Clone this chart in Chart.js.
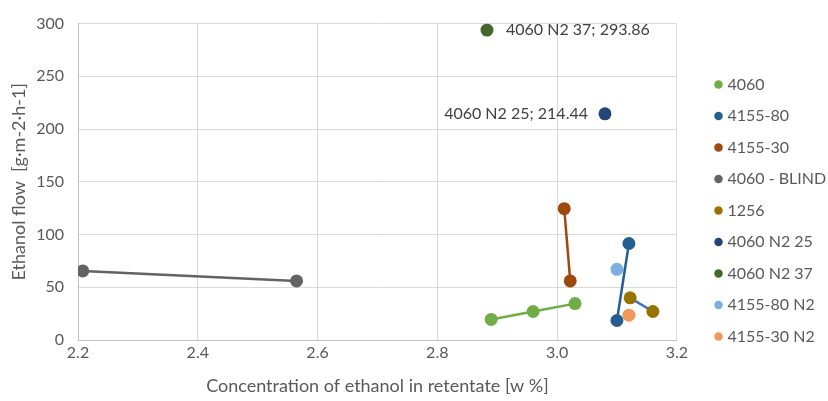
<!DOCTYPE html>
<html>
<head>
<meta charset="utf-8">
<script src="https://cdn.jsdelivr.net/npm/chart.js@4/dist/chart.umd.min.js"></script>
<style>
  html, body { margin: 0; padding: 0; background: #fff; }
  #wrap { width: 828px; height: 401px; }
</style>
</head>
<body>
<div id="wrap"><canvas id="chart"></canvas></div>
<script>
// series names and colours (legend order)
const seriesNames = ['4060', '4155-80', '4155-30', '4060 - BLIND', '1256', '4060 N2 25', '4060 N2 37', '4155-80 N2', '4155-30 N2'];
const pointColors = ['#70AD47', '#255E91', '#9E480E', '#636363', '#997300', '#264478', '#43682B', '#7CAFDD', '#F1975A'];
const lineColors  = ['#70AD47', '#255E91', '#9E480E', '#636363', '#4472C4', '#264478', '#43682B', '#7CAFDD', '#F1975A'];

// x = concentration of ethanol in retentate [w %], y = ethanol flow
const x4060 = [2.89, 2.96, 3.03];
const y4060 = [19.5, 27, 34.5];
const x415580 = [3.10, 3.12];
const y415580 = [18.5, 91.5];
const x415530 = [3.012, 3.022];
const y415530 = [124.5, 56];
const xBlind = [2.208, 2.565];
const yBlind = [65.5, 56];
const x1256 = [3.122, 3.16];
const y1256 = [40, 27];
const xN225 = [3.08];
const yN225 = [214.44];
const xN237 = [2.883];
const yN237 = [293.86];
const x415580N2 = [3.10];
const y415580N2 = [67];
const x415530N2 = [3.12];
const y415530N2 = [23.5];

const xTicks = [2.2, 2.4, 2.6, 2.8, 3.0, 3.2];
const yTicks = [0, 50, 100, 150, 200, 250, 300];

const seriesX = [x4060, x415580, x415530, xBlind, x1256, xN225, xN237, x415580N2, x415530N2];
const seriesY = [y4060, y415580, y415530, yBlind, y1256, yN225, yN237, y415580N2, y415530N2];
// which series get a "name; value" label and on which side
const labelSide = { 5: 'left', 6: 'right' };

const TEXT = '#595959';
const FONT = 'Lato, "Open Sans", sans-serif';

const datasets = seriesNames.map((name, i) => ({
  label: name,
  data: seriesX[i].map((x, j) => ({ x: x, y: seriesY[i][j] })),
  showLine: true,
  borderColor: lineColors[i],
  backgroundColor: pointColors[i],
  pointBackgroundColor: pointColors[i],
  pointBorderColor: pointColors[i],
  pointRadius: 6.5,
  pointHoverRadius: 6.5,
  borderWidth: 2.5,
  pointBorderWidth: 0
}));

// name; value labels next to the single points
const pointLabels = {
  id: 'pointLabels',
  afterDatasetsDraw(chart) {
    const ctx = chart.ctx;
    ctx.save();
    ctx.font = '16px ' + FONT;
    ctx.fillStyle = '#404040';
    ctx.textBaseline = 'middle';
    Object.keys(labelSide).forEach(k => {
      const i = Number(k);
      const pt = chart.getDatasetMeta(i).data[0];
      const txt = seriesNames[i] + '; ' + seriesY[i][0].toFixed(2);
      if (labelSide[k] === 'right') {
        ctx.textAlign = 'left';
        ctx.fillText(txt, pt.x + 19, pt.y);
      } else {
        ctx.textAlign = 'right';
        ctx.fillText(txt, pt.x - 17, pt.y);
      }
    });
    ctx.restore();
  }
};

// move the legend block to where it sits in the original
const legendShift = {
  id: 'legendShift',
  afterUpdate(chart) {
    const lg = chart.legend;
    if (!lg) return;
    const dx = 702 - lg.left;
    lg.top += 6; lg.bottom += 6;
    lg.left += dx; lg.right += dx;
  }
};

new Chart(document.getElementById('chart'), {
  type: 'scatter',
  data: { datasets: datasets },
  plugins: [pointLabels, legendShift],
  options: {
    responsive: true,
    maintainAspectRatio: false,
    animation: false,
    layout: { padding: { left: 4, right: 17, top: 12, bottom: 4 } },
    plugins: {
      legend: {
        position: 'right',
        labels: {
          usePointStyle: true,
          pointStyle: 'circle',
          boxWidth: 2,
          boxHeight: 6,
          padding: 15.5,
          color: TEXT,
          font: { family: FONT, size: 16 }
        }
      },
      tooltip: { enabled: false }
    },
    scales: {
      x: {
        type: 'linear',
        min: 2.2,
        max: 3.2,
        afterBuildTicks(scale) { scale.ticks = xTicks.map(v => ({ value: v })); },
        afterFit(scale) { scale.height = 401 - 4 - 340; },
        ticks: {
          color: TEXT,
          font: { family: FONT, size: 16 },
          padding: 3,
          callback: v => Number(v).toFixed(1)
        },
        grid: { color: '#d9d9d9', lineWidth: 1, drawTicks: false },
        border: { color: '#bfbfbf', width: 1 },
        title: {
          display: true,
          text: 'Concentration of ethanol in retentate [w %]',
          color: TEXT,
          font: { family: FONT, size: 18 },
          padding: { top: 0, bottom: 0 }
        }
      },
      y: {
        type: 'linear',
        min: 0,
        max: 300,
        afterBuildTicks(scale) { scale.ticks = yTicks.map(v => ({ value: v })); },
        afterFit(scale) { scale.width = 78 - 4; },
        ticks: {
          color: TEXT,
          font: { family: FONT, size: 16 },
          padding: 14
        },
        grid: { color: '#d9d9d9', lineWidth: 1, drawTicks: false },
        border: { color: '#bfbfbf', width: 1 },
        title: {
          display: true,
          text: 'Ethanol flow  [g\u00b7m-2\u00b7h-1]',
          color: TEXT,
          font: { family: FONT, size: 18 },
          padding: { top: 4, bottom: 0 }
        }
      }
    }
  }
});
</script>
</body>
</html>
